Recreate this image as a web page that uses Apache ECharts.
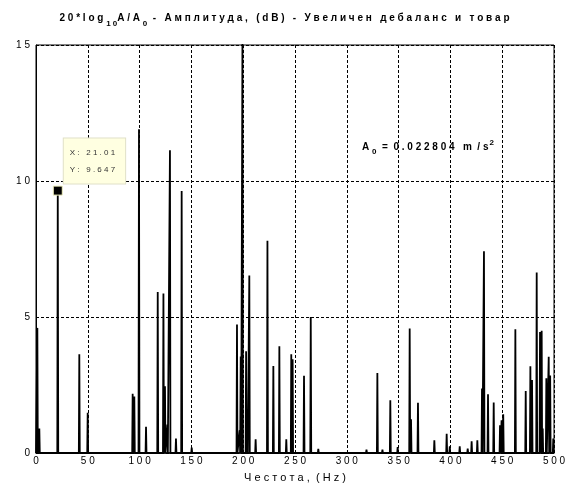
<!DOCTYPE html>
<html>
<head>
<meta charset="utf-8">
<script src="https://cdn.jsdelivr.net/npm/echarts@6/dist/echarts.min.js"></script>
<style>
    html, body { margin: 0; padding: 0; background: #fff; }
    #chart { width: 569px; height: 494px; }
</style>
</head>
<body>
<div id="chart"></div>
<script>
// данни - честоти на пиковете (Hz) и амплитуди (dB)
var peakHz = [1.3, 3.2, 21.01, 41.8, 49.9, 93.3, 94.9, 99.4, 106.2, 117.5, 123.0, 124.5, 126.8, 129.3, 135.1, 140.6, 150.3,
    194, 196.6, 197.6, 199.3, 202.8, 204, 205.9, 212, 223.4, 229.1, 234.9, 241.6, 246.4, 247.7, 258.7, 265.2, 272.5,
    319, 329.5, 334.4, 342, 349.1, 360.7, 362, 368.7, 384.5, 396.4, 399.4, 409, 416.7, 420.5, 426, 430.5, 432.4,
    436.3, 441.8, 447.9, 449.4, 451, 462.7, 472.7, 477.2, 478.8, 483.3, 486.5, 488.1, 489.1, 492.6, 494.9, 496.3, 499.3];
var peakDb = [4.6, 0.9, 9.647, 3.63, 1.48, 2.18, 2.08, 11.9, 0.96, 5.92, 5.86, 2.45, 1.05, 11.13, 0.53, 9.63, 0.2,
    4.72, 0.83, 3.55, 15.5, 3.74, 1.48, 6.53, 0.5, 7.8, 3.2, 3.92, 0.5, 3.63, 3.45, 2.84, 5.0, 0.15,
    0.12, 2.94, 0.12, 1.94, 0.22, 4.58, 1.24, 1.85, 0.47, 0.71, 0.25, 0.25, 0.16, 0.43, 0.47, 2.37, 7.42,
    2.16, 1.86, 1.02, 1.2, 1.42, 4.55, 2.28, 3.19, 2.68, 6.64, 4.45, 4.49, 0.9, 2.75, 3.54, 2.85, 0.53];
var xTicks = [0, 50, 100, 150, 200, 250, 300, 350, 400, 450, 500];
var yTicks = [0, 5, 10, 15];
var tipPoint = [21.01, 9.647];

var FONT = "'Liberation Sans', Arial, sans-serif";

// разредяване на текста (като в MATLAB)
function spaced(s) {
    return String(s).split('').join(' ');
}

// спектърът - под 0 dB е отрязан
var spectrum = [[0, 0]];
for (var i = 0; i < peakHz.length; i++) {
    spectrum.push([peakHz[i] - 0.45, 0]);
    spectrum.push([peakHz[i], peakDb[i]]);
    spectrum.push([peakHz[i] + 0.45, 0]);
}
spectrum.push([500, 0]);

var chart = echarts.init(document.getElementById('chart'));

var gridLine = { show: true, lineStyle: { color: '#000', type: [3, 2], width: 1 } };

var option = {
    animation: false,
    backgroundColor: '#fff',
    title: {
        left: 'center',
        top: 8,
        text: '{n|' + spaced('20*log') + ' }{s|' + spaced('10') + '}{n|' + spaced('A/A') + ' }{s|0}{n|  ' +
            spaced('- Амплитуда, (dB) - Увеличен') + '   ' + spaced('дебаланс') + '   и   ' + spaced('товар') + '}',
        textStyle: {
            rich: {
                n: { fontFamily: FONT, fontSize: 10, fontWeight: 'bold', color: '#000', verticalAlign: 'top', lineHeight: 12 },
                s: { fontFamily: FONT, fontSize: 8, fontWeight: 'bold', color: '#000', verticalAlign: 'top', lineHeight: 12, padding: [7, 0, 0, 0] }
            }
        }
    },
    grid: {
        left: 36, right: 15, top: 45, bottom: 41,
        show: true, borderColor: '#000', borderWidth: 1
    },
    xAxis: {
        type: 'value',
        min: xTicks[0], max: xTicks[xTicks.length - 1], interval: 50,
        name: 'Ч е с т о т а ,  ( H z )',
        nameLocation: 'middle',
        nameGap: 19,
        nameTextStyle: { fontFamily: FONT, fontSize: 11, color: '#000', verticalAlign: 'top' },
        axisLine: { lineStyle: { color: '#000', width: 1.5 } },
        axisTick: { show: false },
        axisLabel: {
            fontFamily: FONT, fontSize: 10, color: '#000', margin: 3,
            formatter: function (v) { return spaced(v); }
        },
        splitLine: gridLine
    },
    yAxis: {
        type: 'value',
        min: yTicks[0], max: yTicks[yTicks.length - 1], interval: 5,
        axisLine: { show: true, lineStyle: { color: '#000', width: 1 } },
        axisTick: { show: false },
        axisLabel: {
            fontFamily: FONT, fontSize: 10, color: '#000', margin: 6,
            formatter: function (v) { return spaced(v); }
        },
        splitLine: gridLine
    },
    series: [{
        type: 'line',
        data: spectrum,
        showSymbol: false,
        clip: true,
        lineStyle: { color: '#000', width: 1.8 },
        markPoint: {
            symbol: 'rect',
            symbolSize: 9,
            itemStyle: { color: '#000', borderColor: '#f2f2c0', borderWidth: 1 },
            label: {
                show: true,
                position: [11, -47],
                align: 'left',
                verticalAlign: 'top',
                fontFamily: FONT,
                fontSize: 8,
                color: '#333',
                lineHeight: 17,
                backgroundColor: '#ffffe1',
                borderColor: '#e0e0c8',
                borderWidth: 1,
                padding: [6, 10, 5, 6],
                formatter: function (p) {
                    return spaced('X: ' + p.data.coord[0].toFixed(2)) + '\n' + spaced('Y: ' + p.data.coord[1].toFixed(3));
                }
            },
            data: [{ coord: tipPoint }]
        }
    }],
    graphic: [{
        type: 'text',
        left: 362,
        top: 139,
        style: {
            text: '{n|A }{s|0}{n|  =  ' + spaced('0.022804') + '   m  / s}{p|2}',
            rich: {
                n: { fontFamily: FONT, fontSize: 10, fontWeight: 'bold', fill: '#000', verticalAlign: 'top', lineHeight: 14, padding: [3, 0, 0, 0] },
                s: { fontFamily: FONT, fontSize: 8, fontWeight: 'bold', fill: '#000', verticalAlign: 'top', lineHeight: 14, padding: [9, 0, 0, 0] },
                p: { fontFamily: FONT, fontSize: 8, fontWeight: 'bold', fill: '#000', verticalAlign: 'top', lineHeight: 14, padding: [0, 0, 0, 1] }
            }
        }
    }]
};

chart.setOption(option);
</script>
</body>
</html>
